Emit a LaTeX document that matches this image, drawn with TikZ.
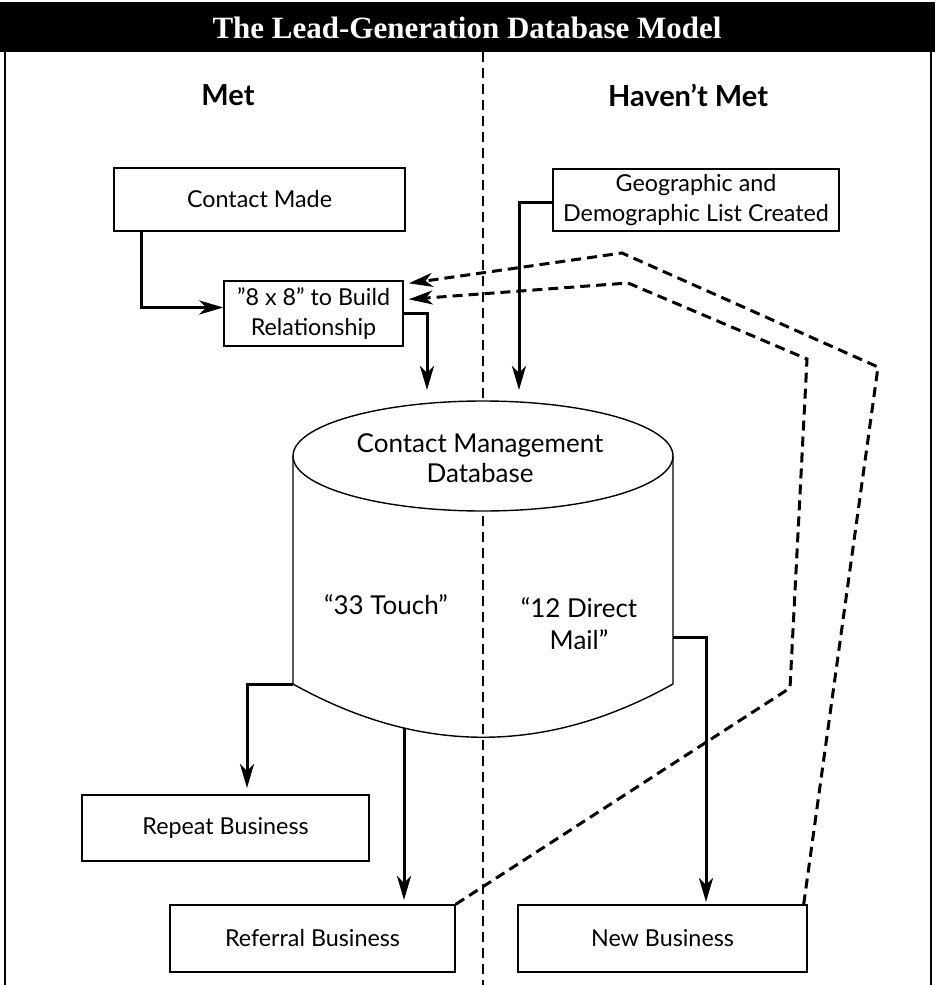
\documentclass[tikz,border=0pt]{standalone}
\usepackage{fontspec}
\setmainfont{Lato}
\newfontfamily\titlefont{Liberation Serif}
\usetikzlibrary{arrows.meta}
\begin{document}
\begin{tikzpicture}[x=1pt,y=-1pt,
  box/.style={draw, line width=1.4pt, inner sep=0pt, align=center,
    font=\fontsize{23.3}{29.5}\selectfont},
  cyltext/.style={inner sep=0pt, align=center, font=\fontsize{26}{30}\selectfont},
  head/.style={font=\fontsize{29}{32}\selectfont\bfseries},
  conn/.style={line width=3pt, line join=miter,
    -{Stealth[length=24pt,width=14pt,inset=7pt]}},
  fb/.style={conn, dash pattern=on 10pt off 6pt},
  divider/.style={line width=2.8pt, dash pattern=on 10pt off 6pt},
  cyl/.style={line width=1.4pt}
]
\useasboundingbox (0,0) rectangle (935,985);
% title bar and frame
\fill[black] (0,2) rectangle (935,52);
\node[text=white, font=\titlefont\fontsize{31}{34}\selectfont\bfseries] (title) at (467,28) {The Lead-Generation Database Model};
\draw[line width=1.4pt] (5,52) -- (5,985);
\draw[line width=1.4pt] (931,52) -- (931,985);
\draw[divider] (483,52) -- (483,985);
\node[head] (met) at (228,95) {Met};
\node[head] (hmet) at (688,95) {Haven’t Met};

% boxes
\node[box, minimum width=291pt, minimum height=63pt] (cm) at (259.5,199.5) {Contact Made};
\node[box, minimum width=286pt, minimum height=62pt] (geo) at (696,200) {Geographic and\\Demographic List Created};
\node[box, minimum width=179pt, minimum height=65pt] (b8) at (313.5,313.5) {”8 x 8” to Build\\Relationship};
\node[box, minimum width=287pt, minimum height=66pt] (rep) at (225.5,828) {Repeat Business};
\node[box, minimum width=285pt, minimum height=67pt] (ref) at (312.5,938.5) {Referral Business};
\node[box, minimum width=289pt, minimum height=67pt] (new) at (662.5,938.5) {New Business};

% cylinder
\draw[cyl] (293,456) -- (293,684) .. controls (420,755) and (546,755) .. (673,684) -- (673,456);
\draw[cyl, fill=white] (483,456) ellipse [x radius=190, y radius=55];
\node[cyltext] (cmdb) at (480,458) {Contact Management\\Database};
\node[cyltext] (t33) at (386,605) {“33 Touch”};
\node[cyltext, font=\fontsize{26}{32}\selectfont] (t12) at (579,624) {“12 Direct\\Mail”};

% anchor points on the cylinder
\coordinate (inA) at (427,390);
\coordinate (inB) at (519,390);
\coordinate (outRep) at (293,684);
\coordinate (outRef) at (404,728);
\coordinate (outNew) at (673,637);

% solid connectors
\draw[conn] ([xshift=28pt]cm.south west) |- ([yshift=6pt]b8.west);
\draw[conn] (b8.east) -| (inA);
\draw[conn] ([yshift=-2pt]geo.west) -| (inB);
\draw[conn] (outRep) -| ([xshift=21.5pt]rep.north |- 0,788);
\draw[conn] (outRef) -- (outRef |- 0,900);
\draw[conn] (outNew) -| (706,902);

% dashed feedback
\coordinate (u1) at (878,367);
\coordinate (u2) at (622,253);
\coordinate (l1) at (790,688);
\coordinate (l2) at (807,359);
\coordinate (l3) at (628,283);
\draw[fb] ([xshift=-4pt]new.north east) -- (u1) -- (u2) -- ([xshift=5pt,yshift=-3pt]b8.north east);
\draw[fb] (ref.north east) -- (l1) -- (l2) -- (l3) -- ([xshift=5pt,yshift=-19pt]b8.north east);
\end{tikzpicture}
\end{document}
